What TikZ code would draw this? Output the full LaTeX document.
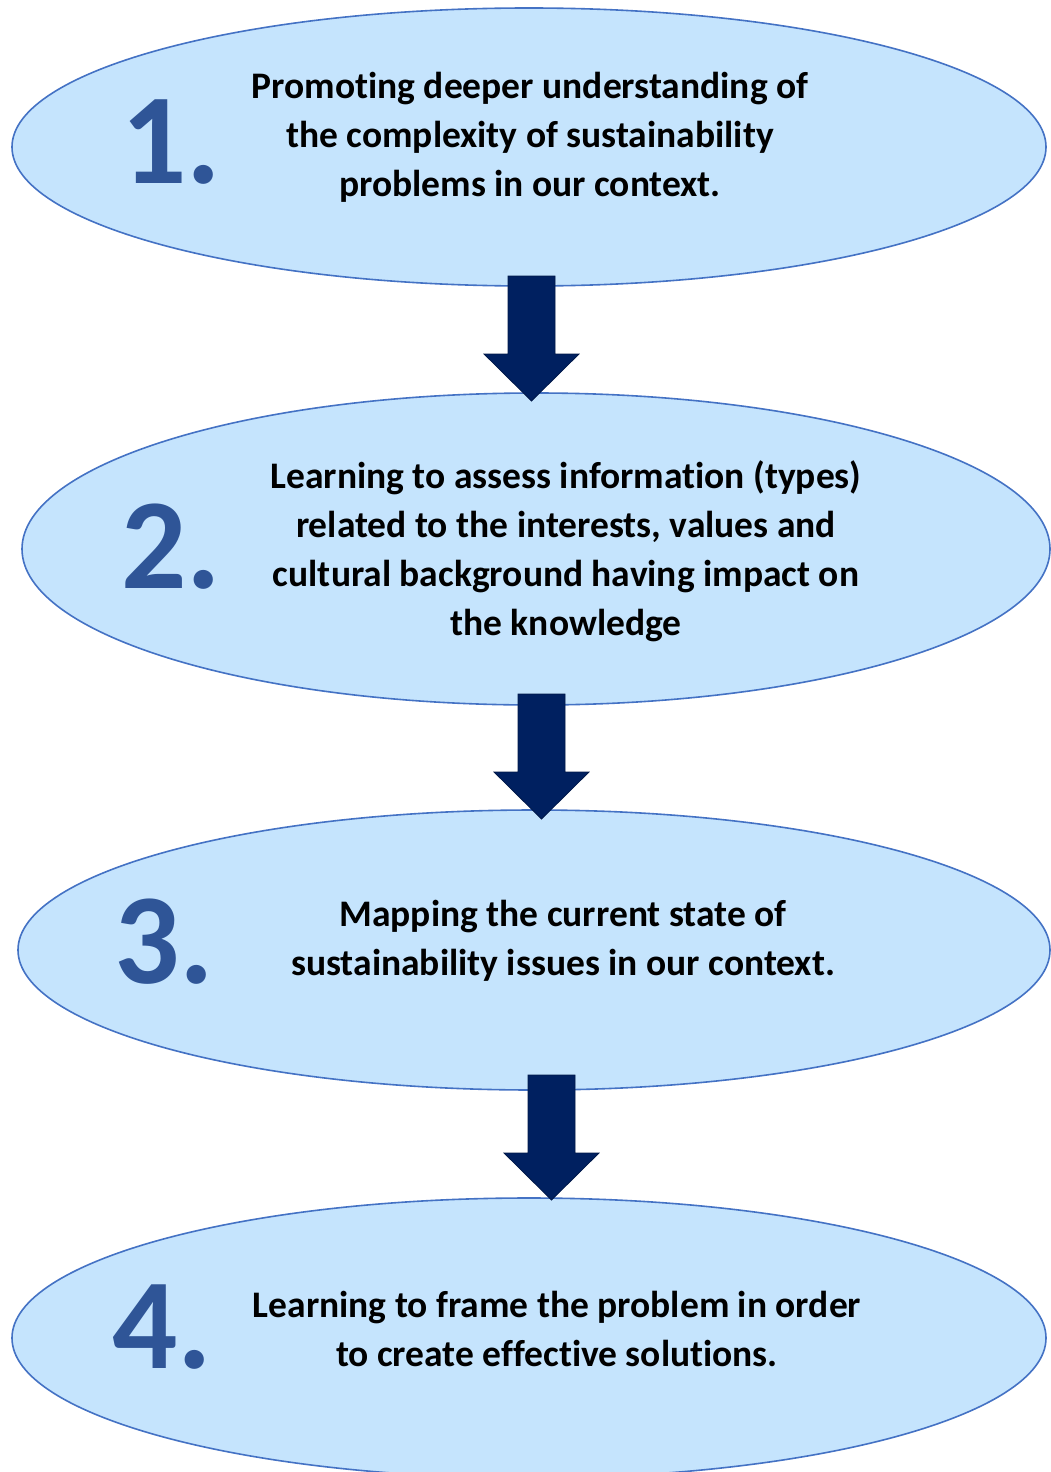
\documentclass[tikz,border=0pt]{standalone}
\usepackage{fontspec}
\setmainfont[Ligatures=NoCommon]{Carlito}
\usetikzlibrary{shapes.geometric}
\definecolor{ellfill}{RGB}{197,228,253}
\definecolor{ellline}{RGB}{68,114,196}
\definecolor{numcol}{RGB}{47,85,151}
\definecolor{arrfill}{RGB}{0,32,96}
\definecolor{arrline}{RGB}{0,24,72}
\tikzset{
  stage/.style={ellipse, draw=ellline, fill=ellfill, line width=1.6pt, inner sep=0pt},
  num/.style={anchor=base west, inner sep=0pt, text=numcol, font=\fontsize{129}{129}\selectfont\bfseries},
  txt/.style={align=center, inner sep=0pt, font=\fontsize{37.5}{49}\selectfont\bfseries},
  blockarrow/.style={fill=arrfill, draw=arrline, line width=0.8pt, line join=miter}
}
\newcommand{\downarrowblk}[2]{% #1 = center x, #2 = top y (pixels)
  \draw[blockarrow] (#1-23.5,#2) -- (#1+23.5,#2) -- (#1+23.5,#2+78) -- (#1+47.5,#2+78)
    -- (#1,#2+125) -- (#1-47.5,#2+78) -- (#1-23.5,#2+78) -- cycle;}
\begin{document}
\begin{tikzpicture}[x=1pt,y=-1pt]
\useasboundingbox (0,0) rectangle (1050,1472);
\node[stage, minimum width=1034pt, minimum height=278pt] (e1) at (529,147) {};
\node[stage, minimum width=1028pt, minimum height=312pt] (e2) at (536,549) {};
\node[stage, minimum width=1032pt, minimum height=280pt] (e3) at (534,950) {};
\node[stage, minimum width=1034pt, minimum height=280pt] (e4) at (529,1338) {};

\node[num] (n1) at (121,183) {1.};
\node[num] (n2) at (121,588) {2.};
\node[num] (n3) at (114,983) {3.};
\node[num] (n4) at (112,1368) {4.};

\node[txt] (t1) at (530,137) {Promoting deeper understanding of\\the complexity of sustainability\\problems in our context.};
\node[txt] (t2) at (566,551) {Learning to assess information (types)\\related to the interests, values and\\cultural background having impact on\\the knowledge};
\node[txt] (t3) at (563,941) {Mapping the current state of\\sustainability issues in our context.};
\node[txt] (t4) at (557,1329) {Learning to frame the problem in order\\to create effective solutions.};

\downarrowblk{531.5}{276}
\downarrowblk{541.5}{694}
\downarrowblk{551.5}{1075}
\end{tikzpicture}
\end{document}
